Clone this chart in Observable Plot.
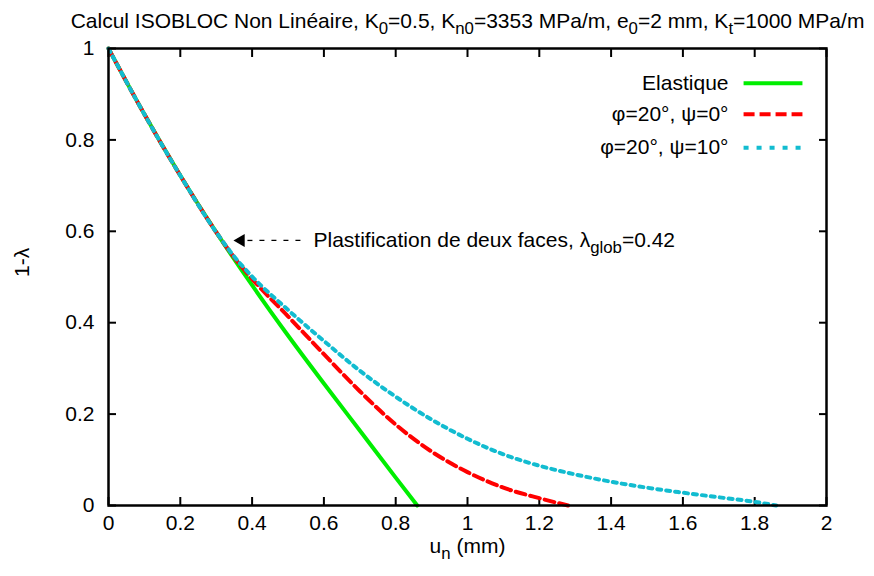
<!DOCTYPE html>
<html>
<head>
<meta charset="utf-8">
<script src="https://cdn.jsdelivr.net/npm/d3@7"></script>
<script src="https://cdn.jsdelivr.net/npm/@observablehq/plot@0.6"></script>
<style>
  html, body { margin: 0; padding: 0; background: #fff; }
  #chart svg { display: block; }
</style>
</head>
<body>
<div id="chart"></div>
<script>
// ---- data ----
const titleText = "Calcul ISOBLOC Non Linéaire, K_{0}=0.5, K_{n0}=3353 MPa/m, e_{0}=2 mm, K_{t}=1000 MPa/m";
const xLabel = "u_{n} (mm)";
const yLabel = "1-λ";
const xTicks = [0, 0.2, 0.4, 0.6, 0.8, 1, 1.2, 1.4, 1.6, 1.8, 2];
const yTicks = [0, 0.2, 0.4, 0.6, 0.8, 1];

const seriesNames = ["Elastique", "φ=20°, ψ=0°", "φ=20°, ψ=10°"];
const seriesColors = ["#00ee00", "#ff0000", "#12bcd0"];

const uElastic = [0, 0.1, 0.2, 0.3, 0.4, 0.5, 0.6, 0.7, 0.8, 0.86];
const vElastic = [1, 0.856, 0.722, 0.598, 0.482, 0.372, 0.267, 0.164, 0.061, 0];

const uPsi0 = [0, 0.1, 0.2, 0.3, 0.35, 0.4, 0.5, 0.6, 0.7, 0.8, 0.9, 1.0, 1.1, 1.2, 1.28];
const vPsi0 = [1, 0.856, 0.722, 0.598, 0.543, 0.496, 0.414, 0.331, 0.250, 0.177, 0.118, 0.073, 0.039, 0.016, 0];

const uPsi10 = [0, 0.1, 0.2, 0.3, 0.35, 0.4, 0.5, 0.6, 0.7, 0.8, 0.9, 1.0, 1.1, 1.2, 1.3, 1.4, 1.5, 1.6, 1.7, 1.8, 1.86];
const vPsi10 = [1, 0.856, 0.722, 0.598, 0.545, 0.501, 0.428, 0.360, 0.295, 0.238, 0.188, 0.146, 0.112, 0.087, 0.068, 0.052, 0.039, 0.028, 0.018, 0.008, 0];

// annotation
const annText = "Plastification de deux faces, λ_{glob}=0.42";
const annY = 0.58;
const annTipX = 0.348;
const annLineX = [0.387, 0.552];
const annTextX = 0.571;

// legend layout (in data units, top right inside frame)
const legendRowsY = [0.924, 0.856, 0.783];
const legendLineX = [1.769, 1.933];
const legendTextX = 1.727;
const legendDash = [null, "11,5", "5,8"];

// ---- build rows ----
const toRows = (us, vs, name) => us.map((u, i) => ({u, v: vs[i], name}));
const elastic = toRows(uElastic, vElastic, seriesNames[0]);
const psi0 = toRows(uPsi0, vPsi0, seriesNames[1]);
const psi10 = toRows(uPsi10, vPsi10, seriesNames[2]);

const legend = seriesNames.map((name, i) => ({
  name, color: seriesColors[i], y: legendRowsY[i], dash: legendDash[i]
}));

const FONT = "'Liberation Sans', Arial, Helvetica, sans-serif";
const FS = 21;

const legendMarks = legend.flatMap(d => [
  Plot.link([d], {x1: legendLineX[0], x2: legendLineX[1], y1: "y", y2: "y", stroke: d.color, strokeWidth: 4, strokeDasharray: d.dash || undefined}),
  Plot.text([d], {x: legendTextX, y: "y", text: "name", textAnchor: "end", fontSize: FS, fill: "black"})
]);

const chart = Plot.plot({
  width: 874,
  height: 576,
  marginLeft: 108,
  marginRight: 48,
  marginTop: 48,
  marginBottom: 71,
  style: {fontFamily: FONT, fontSize: FS + "px", color: "black", background: "white"},
  x: {domain: [0, 2]},
  y: {domain: [0, 1]},
  marks: [
    // inward ticks on all four sides
    Plot.axisX(xTicks, {anchor: "bottom", tickSize: -8, strokeWidth: 2, text: null, label: null}),
    Plot.axisX(xTicks, {anchor: "top", tickSize: -8, strokeWidth: 2, text: null, label: null}),
    Plot.axisY(yTicks, {anchor: "left", tickSize: -8, strokeWidth: 2, text: null, label: null}),
    Plot.axisY(yTicks, {anchor: "right", tickSize: -8, strokeWidth: 2, text: null, label: null}),
    // tick labels
    Plot.axisX(xTicks, {anchor: "bottom", tickSize: 0, tickPadding: 10, label: null, fontSize: FS, tickFormat: d => String(d)}),
    Plot.axisY(yTicks, {anchor: "left", tickSize: 0, tickPadding: 14, label: null, fontSize: FS, tickFormat: d => String(d)}),
    // curves
    Plot.line(elastic, {x: "u", y: "v", stroke: seriesColors[0], strokeWidth: 4, curve: "monotone-x"}),
    Plot.line(psi0, {x: "u", y: "v", stroke: seriesColors[1], strokeWidth: 4, strokeDasharray: "10,5", curve: "monotone-x"}),
    Plot.line(psi10, {x: "u", y: "v", stroke: seriesColors[2], strokeWidth: 4, strokeDasharray: "4,5", curve: "monotone-x"}),
    // frame
    Plot.frame({stroke: "black", strokeWidth: 2.5}),
    // annotation
    Plot.link([annY], {x1: annLineX[0], x2: annLineX[1], y1: d => d, y2: d => d, stroke: "black", strokeWidth: 1.3, strokeDasharray: "5,7"}),
    Plot.dot([annY], {x: annTipX, y: d => d, dx: 7.5, symbol: "triangle", r: 4.8, rotate: -90, fill: "black", stroke: "none"}),
    Plot.text([annText], {x: annTextX, y: annY, text: d => d, textAnchor: "start", fontSize: FS, fill: "black"}),
    // legend
    ...legendMarks,
    // title and axis labels
    Plot.text([titleText], {frameAnchor: "top", dy: -35, text: d => d, fontSize: FS, fill: "black"}),
    Plot.text([xLabel], {frameAnchor: "bottom", dy: 47, text: d => d, fontSize: FS, fill: "black"}),
    Plot.text([yLabel], {frameAnchor: "left", dx: -86, rotate: -90, text: d => d, fontSize: FS, fill: "black"})
  ]
});

// turn _{...} into subscripts
function subscriptify(root) {
  const ns = "http://www.w3.org/2000/svg";
  d3.select(root).selectAll("text").each(function () {
    const el = this;
    const s = el.textContent;
    if (!s.includes("_{")) return;
    const parts = [];
    const re = /_\{([^}]*)\}/g;
    let last = 0, m;
    while ((m = re.exec(s))) {
      parts.push([s.slice(last, m.index), false]);
      parts.push([m[1], true]);
      last = re.lastIndex;
    }
    parts.push([s.slice(last), false]);
    while (el.firstChild) el.removeChild(el.firstChild);
    parts.forEach(([t, sub]) => {
      if (!t) return;
      const ts = document.createElementNS(ns, "tspan");
      ts.textContent = t;
      if (sub) {
        ts.setAttribute("baseline-shift", "-35%");
        ts.setAttribute("font-size", "80%");
      }
      el.appendChild(ts);
    });
  });
}
subscriptify(chart);

document.getElementById("chart").appendChild(chart);
</script>
</body>
</html>
